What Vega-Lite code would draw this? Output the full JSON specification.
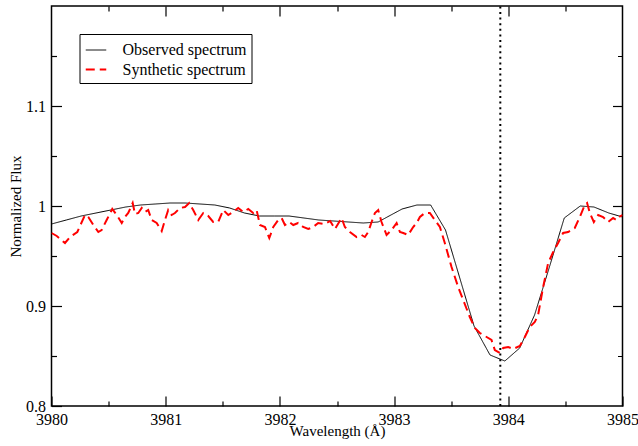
{
  "$schema": "https://vega.github.io/schema/vega-lite/v6.json",
  "width": 571,
  "height": 400,
  "autosize": {"type": "none"},
  "padding": {"left": 51.5, "top": 6, "right": 15.5, "bottom": 40},
  "background": "white",
  "config": {
    "view": {"stroke": "black", "strokeWidth": 1.5, "fill": null},
    "font": "Liberation Serif",
    "axis": {"zindex": 2, "domain": false, "grid": false, "tickColor": "#000000", "tickWidth": 1.2, "tickOpacity": 1}
  },
  "datasets": {
    "spectra": [
      {"series": "Observed spectrum", "wavelength": 3980.00, "flux": 0.982},
      {"series": "Observed spectrum", "wavelength": 3980.13, "flux": 0.986},
      {"series": "Observed spectrum", "wavelength": 3980.26, "flux": 0.990},
      {"series": "Observed spectrum", "wavelength": 3980.39, "flux": 0.993},
      {"series": "Observed spectrum", "wavelength": 3980.52, "flux": 0.996},
      {"series": "Observed spectrum", "wavelength": 3980.65, "flux": 0.999},
      {"series": "Observed spectrum", "wavelength": 3980.78, "flux": 1.001},
      {"series": "Observed spectrum", "wavelength": 3980.91, "flux": 1.002},
      {"series": "Observed spectrum", "wavelength": 3981.04, "flux": 1.003},
      {"series": "Observed spectrum", "wavelength": 3981.17, "flux": 1.003},
      {"series": "Observed spectrum", "wavelength": 3981.30, "flux": 1.002},
      {"series": "Observed spectrum", "wavelength": 3981.43, "flux": 1.001},
      {"series": "Observed spectrum", "wavelength": 3981.56, "flux": 0.998},
      {"series": "Observed spectrum", "wavelength": 3981.69, "flux": 0.993},
      {"series": "Observed spectrum", "wavelength": 3981.82, "flux": 0.990},
      {"series": "Observed spectrum", "wavelength": 3981.95, "flux": 0.990},
      {"series": "Observed spectrum", "wavelength": 3982.08, "flux": 0.990},
      {"series": "Observed spectrum", "wavelength": 3982.21, "flux": 0.988},
      {"series": "Observed spectrum", "wavelength": 3982.34, "flux": 0.986},
      {"series": "Observed spectrum", "wavelength": 3982.47, "flux": 0.985},
      {"series": "Observed spectrum", "wavelength": 3982.60, "flux": 0.984},
      {"series": "Observed spectrum", "wavelength": 3982.73, "flux": 0.983},
      {"series": "Observed spectrum", "wavelength": 3982.86, "flux": 0.984},
      {"series": "Observed spectrum", "wavelength": 3982.94, "flux": 0.989},
      {"series": "Observed spectrum", "wavelength": 3983.07, "flux": 0.997},
      {"series": "Observed spectrum", "wavelength": 3983.20, "flux": 1.001},
      {"series": "Observed spectrum", "wavelength": 3983.32, "flux": 1.001},
      {"series": "Observed spectrum", "wavelength": 3983.45, "flux": 0.976},
      {"series": "Observed spectrum", "wavelength": 3983.70, "flux": 0.880},
      {"series": "Observed spectrum", "wavelength": 3983.84, "flux": 0.851},
      {"series": "Observed spectrum", "wavelength": 3983.97, "flux": 0.845},
      {"series": "Observed spectrum", "wavelength": 3984.10, "flux": 0.858},
      {"series": "Observed spectrum", "wavelength": 3984.23, "flux": 0.891},
      {"series": "Observed spectrum", "wavelength": 3984.36, "flux": 0.939},
      {"series": "Observed spectrum", "wavelength": 3984.49, "flux": 0.988},
      {"series": "Observed spectrum", "wavelength": 3984.63, "flux": 1.000},
      {"series": "Observed spectrum", "wavelength": 3984.75, "flux": 0.999},
      {"series": "Observed spectrum", "wavelength": 3984.88, "flux": 0.993},
      {"series": "Observed spectrum", "wavelength": 3985.00, "flux": 0.989},
      {"series": "Synthetic spectrum", "wavelength": 3980.00, "flux": 0.973},
      {"series": "Synthetic spectrum", "wavelength": 3980.046, "flux": 0.970},
      {"series": "Synthetic spectrum", "wavelength": 3980.118, "flux": 0.963},
      {"series": "Synthetic spectrum", "wavelength": 3980.162, "flux": 0.969},
      {"series": "Synthetic spectrum", "wavelength": 3980.226, "flux": 0.974},
      {"series": "Synthetic spectrum", "wavelength": 3980.293, "flux": 0.991},
      {"series": "Synthetic spectrum", "wavelength": 3980.322, "flux": 0.989},
      {"series": "Synthetic spectrum", "wavelength": 3980.366, "flux": 0.981},
      {"series": "Synthetic spectrum", "wavelength": 3980.410, "flux": 0.974},
      {"series": "Synthetic spectrum", "wavelength": 3980.439, "flux": 0.976},
      {"series": "Synthetic spectrum", "wavelength": 3980.483, "flux": 0.986},
      {"series": "Synthetic spectrum", "wavelength": 3980.532, "flux": 0.997},
      {"series": "Synthetic spectrum", "wavelength": 3980.571, "flux": 0.991},
      {"series": "Synthetic spectrum", "wavelength": 3980.615, "flux": 0.983},
      {"series": "Synthetic spectrum", "wavelength": 3980.643, "flux": 0.989},
      {"series": "Synthetic spectrum", "wavelength": 3980.672, "flux": 0.993},
      {"series": "Synthetic spectrum", "wavelength": 3980.711, "flux": 1.003},
      {"series": "Synthetic spectrum", "wavelength": 3980.731, "flux": 0.992},
      {"series": "Synthetic spectrum", "wavelength": 3980.760, "flux": 0.993},
      {"series": "Synthetic spectrum", "wavelength": 3980.790, "flux": 0.998},
      {"series": "Synthetic spectrum", "wavelength": 3980.818, "flux": 0.994},
      {"series": "Synthetic spectrum", "wavelength": 3980.847, "flux": 0.996},
      {"series": "Synthetic spectrum", "wavelength": 3980.877, "flux": 0.986},
      {"series": "Synthetic spectrum", "wavelength": 3980.921, "flux": 0.983},
      {"series": "Synthetic spectrum", "wavelength": 3980.965, "flux": 0.975},
      {"series": "Synthetic spectrum", "wavelength": 3980.994, "flux": 0.986},
      {"series": "Synthetic spectrum", "wavelength": 3981.022, "flux": 0.996},
      {"series": "Synthetic spectrum", "wavelength": 3981.052, "flux": 0.991},
      {"series": "Synthetic spectrum", "wavelength": 3981.081, "flux": 0.993},
      {"series": "Synthetic spectrum", "wavelength": 3981.125, "flux": 0.998},
      {"series": "Synthetic spectrum", "wavelength": 3981.169, "flux": 0.999},
      {"series": "Synthetic spectrum", "wavelength": 3981.206, "flux": 1.003},
      {"series": "Synthetic spectrum", "wavelength": 3981.241, "flux": 0.996},
      {"series": "Synthetic spectrum", "wavelength": 3981.285, "flux": 0.986},
      {"series": "Synthetic spectrum", "wavelength": 3981.329, "flux": 0.993},
      {"series": "Synthetic spectrum", "wavelength": 3981.373, "flux": 0.990},
      {"series": "Synthetic spectrum", "wavelength": 3981.416, "flux": 0.984},
      {"series": "Synthetic spectrum", "wavelength": 3981.460, "flux": 0.984},
      {"series": "Synthetic spectrum", "wavelength": 3981.504, "flux": 0.996},
      {"series": "Synthetic spectrum", "wavelength": 3981.548, "flux": 0.991},
      {"series": "Synthetic spectrum", "wavelength": 3981.591, "flux": 0.994},
      {"series": "Synthetic spectrum", "wavelength": 3981.635, "flux": 0.998},
      {"series": "Synthetic spectrum", "wavelength": 3981.679, "flux": 0.994},
      {"series": "Synthetic spectrum", "wavelength": 3981.723, "flux": 0.997},
      {"series": "Synthetic spectrum", "wavelength": 3981.766, "flux": 0.993},
      {"series": "Synthetic spectrum", "wavelength": 3981.796, "flux": 0.996},
      {"series": "Synthetic spectrum", "wavelength": 3981.825, "flux": 0.981},
      {"series": "Synthetic spectrum", "wavelength": 3981.869, "flux": 0.979},
      {"series": "Synthetic spectrum", "wavelength": 3981.907, "flux": 0.968},
      {"series": "Synthetic spectrum", "wavelength": 3981.942, "flux": 0.979},
      {"series": "Synthetic spectrum", "wavelength": 3981.985, "flux": 0.986},
      {"series": "Synthetic spectrum", "wavelength": 3982.015, "flux": 0.988},
      {"series": "Synthetic spectrum", "wavelength": 3982.044, "flux": 0.981},
      {"series": "Synthetic spectrum", "wavelength": 3982.082, "flux": 0.984},
      {"series": "Synthetic spectrum", "wavelength": 3982.117, "flux": 0.981},
      {"series": "Synthetic spectrum", "wavelength": 3982.160, "flux": 0.983},
      {"series": "Synthetic spectrum", "wavelength": 3982.204, "flux": 0.979},
      {"series": "Synthetic spectrum", "wavelength": 3982.248, "flux": 0.977},
      {"series": "Synthetic spectrum", "wavelength": 3982.292, "flux": 0.979},
      {"series": "Synthetic spectrum", "wavelength": 3982.335, "flux": 0.983},
      {"series": "Synthetic spectrum", "wavelength": 3982.394, "flux": 0.982},
      {"series": "Synthetic spectrum", "wavelength": 3982.440, "flux": 0.985},
      {"series": "Synthetic spectrum", "wavelength": 3982.482, "flux": 0.977},
      {"series": "Synthetic spectrum", "wavelength": 3982.540, "flux": 0.988},
      {"series": "Synthetic spectrum", "wavelength": 3982.569, "flux": 0.979},
      {"series": "Synthetic spectrum", "wavelength": 3982.613, "flux": 0.974},
      {"series": "Synthetic spectrum", "wavelength": 3982.672, "flux": 0.969},
      {"series": "Synthetic spectrum", "wavelength": 3982.715, "flux": 0.971},
      {"series": "Synthetic spectrum", "wavelength": 3982.744, "flux": 0.969},
      {"series": "Synthetic spectrum", "wavelength": 3982.773, "flux": 0.974},
      {"series": "Synthetic spectrum", "wavelength": 3982.803, "flux": 0.984},
      {"series": "Synthetic spectrum", "wavelength": 3982.832, "flux": 0.993},
      {"series": "Synthetic spectrum", "wavelength": 3982.861, "flux": 0.996},
      {"series": "Synthetic spectrum", "wavelength": 3982.890, "flux": 0.984},
      {"series": "Synthetic spectrum", "wavelength": 3982.934, "flux": 0.971},
      {"series": "Synthetic spectrum", "wavelength": 3982.978, "flux": 0.976},
      {"series": "Synthetic spectrum", "wavelength": 3983.022, "flux": 0.983},
      {"series": "Synthetic spectrum", "wavelength": 3983.051, "flux": 0.974},
      {"series": "Synthetic spectrum", "wavelength": 3983.080, "flux": 0.973},
      {"series": "Synthetic spectrum", "wavelength": 3983.123, "flux": 0.971},
      {"series": "Synthetic spectrum", "wavelength": 3983.167, "flux": 0.979},
      {"series": "Synthetic spectrum", "wavelength": 3983.197, "flux": 0.983},
      {"series": "Synthetic spectrum", "wavelength": 3983.226, "flux": 0.989},
      {"series": "Synthetic spectrum", "wavelength": 3983.269, "flux": 0.993},
      {"series": "Synthetic spectrum", "wavelength": 3983.313, "flux": 0.993},
      {"series": "Synthetic spectrum", "wavelength": 3983.357, "flux": 0.986},
      {"series": "Synthetic spectrum", "wavelength": 3983.401, "flux": 0.979},
      {"series": "Synthetic spectrum", "wavelength": 3983.444, "flux": 0.963},
      {"series": "Synthetic spectrum", "wavelength": 3983.503, "flux": 0.939},
      {"series": "Synthetic spectrum", "wavelength": 3983.561, "flux": 0.919},
      {"series": "Synthetic spectrum", "wavelength": 3983.605, "flux": 0.906},
      {"series": "Synthetic spectrum", "wavelength": 3983.663, "flux": 0.889},
      {"series": "Synthetic spectrum", "wavelength": 3983.707, "flux": 0.878},
      {"series": "Synthetic spectrum", "wavelength": 3983.751, "flux": 0.873},
      {"series": "Synthetic spectrum", "wavelength": 3983.810, "flux": 0.869},
      {"series": "Synthetic spectrum", "wavelength": 3983.853, "flux": 0.866},
      {"series": "Synthetic spectrum", "wavelength": 3983.882, "flux": 0.856},
      {"series": "Synthetic spectrum", "wavelength": 3983.926, "flux": 0.853},
      {"series": "Synthetic spectrum", "wavelength": 3983.955, "flux": 0.858},
      {"series": "Synthetic spectrum", "wavelength": 3983.999, "flux": 0.859},
      {"series": "Synthetic spectrum", "wavelength": 3984.042, "flux": 0.857},
      {"series": "Synthetic spectrum", "wavelength": 3984.101, "flux": 0.860},
      {"series": "Synthetic spectrum", "wavelength": 3984.145, "flux": 0.869},
      {"series": "Synthetic spectrum", "wavelength": 3984.188, "flux": 0.879},
      {"series": "Synthetic spectrum", "wavelength": 3984.232, "flux": 0.884},
      {"series": "Synthetic spectrum", "wavelength": 3984.261, "flux": 0.891},
      {"series": "Synthetic spectrum", "wavelength": 3984.305, "flux": 0.919},
      {"series": "Synthetic spectrum", "wavelength": 3984.349, "flux": 0.943},
      {"series": "Synthetic spectrum", "wavelength": 3984.393, "flux": 0.954},
      {"series": "Synthetic spectrum", "wavelength": 3984.436, "flux": 0.963},
      {"series": "Synthetic spectrum", "wavelength": 3984.480, "flux": 0.973},
      {"series": "Synthetic spectrum", "wavelength": 3984.524, "flux": 0.974},
      {"series": "Synthetic spectrum", "wavelength": 3984.582, "flux": 0.978},
      {"series": "Synthetic spectrum", "wavelength": 3984.626, "flux": 0.989},
      {"series": "Synthetic spectrum", "wavelength": 3984.670, "flux": 1.001},
      {"series": "Synthetic spectrum", "wavelength": 3984.690, "flux": 1.003},
      {"series": "Synthetic spectrum", "wavelength": 3984.714, "flux": 0.993},
      {"series": "Synthetic spectrum", "wavelength": 3984.749, "flux": 0.984},
      {"series": "Synthetic spectrum", "wavelength": 3984.787, "flux": 0.991},
      {"series": "Synthetic spectrum", "wavelength": 3984.830, "flux": 0.989},
      {"series": "Synthetic spectrum", "wavelength": 3984.874, "flux": 0.984},
      {"series": "Synthetic spectrum", "wavelength": 3984.918, "flux": 0.988},
      {"series": "Synthetic spectrum", "wavelength": 3984.948, "flux": 0.986},
      {"series": "Synthetic spectrum", "wavelength": 3984.970, "flux": 0.989},
      {"series": "Synthetic spectrum", "wavelength": 3985.000, "flux": 0.991}
    ],
    "marker": [
      {"wavelength": 3983.93, "fmin": 0.8, "fmax": 1.2}
    ]
  },
  "resolve": {"axis": {"x": "independent", "y": "independent"}},
  "layer": [
    {
      "data": {"name": "spectra"},
      "transform": [{"filter": "datum.series === 'Observed spectrum'"}],
      "mark": {"type": "line", "clip": true},
      "encoding": {
        "x": {
          "field": "wavelength", "type": "quantitative",
          "scale": {"domain": [3980, 3985], "nice": false, "zero": false},
          "axis": {
            "orient": "bottom",
            "zindex": 2,
            "offset": -10,
            "title": "Wavelength (Å)",
            "values": [3980, 3981, 3982, 3983, 3984, 3985],
            "format": "d",
            "tickSize": 10,
            "labelFont": "Liberation Serif", "labelFontSize": 16, "labelColor": "black",
            "labelFlush": false, "labelPadding": 5, "labelOverlap": false,
            "titleFont": "Liberation Serif", "titleFontSize": 15, "titleFontWeight": "normal", "titleColor": "black",
            "titlePadding": -4
          }
        },
        "y": {
          "field": "flux", "type": "quantitative",
          "scale": {"domain": [0.8, 1.2], "nice": false, "zero": false},
          "axis": {
            "orient": "left",
            "zindex": 2,
            "offset": -10,
            "title": "Normalized Flux",
            "values": [0.8, 0.9, 1.0, 1.1],
            "format": "~g",
            "tickSize": 10,
            "labelFont": "Liberation Serif", "labelFontSize": 16, "labelColor": "black",
            "labelFlush": false, "labelPadding": 6, "labelOverlap": false,
            "titleFont": "Liberation Serif", "titleFontSize": 15, "titleFontWeight": "normal", "titleColor": "black",
            "titlePadding": 2
          }
        },
        "color": {
          "field": "series", "type": "nominal",
          "scale": {"domain": ["Observed spectrum", "Synthetic spectrum"], "range": ["#000000", "#ff0000"]},
          "legend": {
            "title": null,
            "orient": "top-left",
            "offset": 28,
            "strokeColor": "black",
            "fillColor": "white",
            "padding": 5,
            "rowPadding": 0,
            "symbolType": "stroke",
            "symbolSize": 420,
            "labelFont": "Liberation Serif",
            "labelFontSize": 16,
            "labelColor": "black",
            "labelOffset": 15
          }
        },
        "strokeDash": {
          "field": "series", "type": "nominal",
          "scale": {"domain": ["Observed spectrum", "Synthetic spectrum"], "range": [[1, 0], [9, 5]]},
          "legend": {"title": null}
        },
        "strokeWidth": {
          "field": "series", "type": "nominal",
          "scale": {"domain": ["Observed spectrum", "Synthetic spectrum"], "range": [1, 2]},
          "legend": {"title": null}
        }
      }
    },
    {
      "data": {"name": "spectra"},
      "transform": [{"filter": "datum.series === 'Synthetic spectrum'"}],
      "mark": {"type": "line", "clip": true},
      "encoding": {
        "x": {
          "field": "wavelength", "type": "quantitative",
          "axis": {
            "orient": "bottom",
            "zindex": 2,
            "offset": -5,
            "title": null,
            "values": [3980.5, 3981.5, 3982.5, 3983.5, 3984.5],
            "labels": false,
            "tickSize": 5
          }
        },
        "y": {
          "field": "flux", "type": "quantitative",
          "axis": {
            "orient": "left",
            "zindex": 2,
            "offset": -5,
            "title": null,
            "values": [0.85, 0.95, 1.05, 1.15],
            "labels": false,
            "tickSize": 5
          }
        },
        "color": {"field": "series", "type": "nominal"},
        "strokeDash": {"field": "series", "type": "nominal"},
        "strokeWidth": {"field": "series", "type": "nominal"}
      }
    },
    {
      "data": {"name": "marker"},
      "mark": {"type": "rule", "color": "black", "strokeWidth": 2, "strokeDash": [2, 3.6]},
      "encoding": {
        "x": {
          "field": "wavelength", "type": "quantitative",
          "axis": {
            "orient": "top",
            "zindex": 2,
            "offset": -10,
            "title": null,
            "values": [3980.5, 3981, 3981.5, 3982, 3982.5, 3983, 3983.5, 3984, 3984.5],
            "labels": false,
            "tickSize": 10,
            "tickDash": {"condition": {"test": "datum.value % 1 === 0", "value": [10, 0]}, "value": [0, 5, 5, 30]}
          }
        },
        "y": {
          "field": "fmin", "type": "quantitative",
          "axis": {
            "orient": "right",
            "zindex": 2,
            "offset": -10,
            "title": null,
            "values": [0.85, 0.9, 0.95, 1.0, 1.05, 1.1, 1.15],
            "labels": false,
            "tickSize": 10,
            "tickDash": {"condition": {"test": "abs(datum.value * 10 - round(datum.value * 10)) < 0.001", "value": [10, 0]}, "value": [0, 5, 5, 30]}
          }
        },
        "y2": {"field": "fmax"}
      }
    }
  ]
}
